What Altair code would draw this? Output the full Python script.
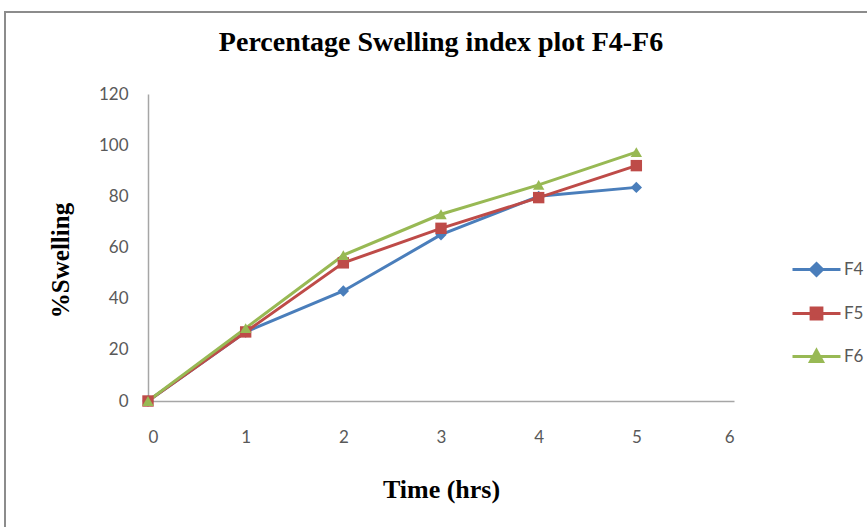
import altair as alt
import pandas as pd

time_hrs = [0, 1, 2, 3, 4, 5]
f4 = [0, 27, 43, 65, 80, 83.5]
f5 = [0, 27, 54, 67.5, 79.5, 92]
f6 = [0, 28.5, 57, 73, 84.5, 97.3]
series_names = ["F4", "F5", "F6"]
colors = ["#4A7EBB", "#BE4B48", "#98B954"]
shapes = ["diamond", "square", "triangle-up"]
legend_paths = [
    "M-1.2,0H1.2M0,-0.3L0.3,0L0,0.3L-0.3,0Z",
    "M-1.2,0H1.2M-0.27,-0.27H0.27V0.27H-0.27Z",
    "M-1.2,0H1.2M0,-0.3L0.3,0.25L-0.3,0.25Z",
]

rows = []
for name, vals in zip(series_names, [f4, f5, f6]):
    for t, v in zip(time_hrs, vals):
        rows.append({"Time": t, "Swelling": v, "Series": name})
df = pd.DataFrame(rows)

LABEL_FONT = "Lato"
TITLE_FONT = "Liberation Serif"

x_enc = alt.X("Time:Q", scale=alt.Scale(domain=[0, 6], nice=False),
              axis=alt.Axis(values=[0, 1, 2, 3, 4, 5, 6], title="Time (hrs)", grid=False,
                            ticks=False, domainColor="#A6A6A6", domainWidth=1.5,
                            labelFont=LABEL_FONT, labelFontSize=17, labelColor="#595959",
                            labelPadding=28, titleFont=TITLE_FONT, titleFontSize=26,
                            titleFontWeight="bold", titleColor="#000000", titlePadding=31))
y_enc = alt.Y("Swelling:Q", scale=alt.Scale(domain=[0, 120], nice=False),
              axis=alt.Axis(values=[0, 20, 40, 60, 80, 100, 120], title="%Swelling", grid=False,
                            ticks=False, domainColor="#A6A6A6", domainWidth=1.5,
                            labelFont=LABEL_FONT, labelFontSize=17, labelColor="#595959",
                            labelPadding=20, titleFont=TITLE_FONT, titleFontSize=25,
                            titleFontWeight="bold", titleColor="#000000", titlePadding=25,
                            titleY=166))

lines = alt.Chart(df).mark_line(strokeWidth=3).encode(
    x=x_enc, y=y_enc,
    color=alt.Color("Series:N", scale=alt.Scale(domain=series_names, range=colors), legend=None),
)

points = alt.Chart(df).mark_point(filled=True, opacity=1, size=130).encode(
    x=x_enc, y=y_enc,
    color=alt.Color("Series:N", scale=alt.Scale(domain=series_names, range=colors), legend=None),
    shape=alt.Shape("Series:N", scale=alt.Scale(domain=series_names, range=shapes), legend=None),
)

leg_common = dict(orient="none", legendX=647, legendY=154, title=None,
                  symbolSize=1600, symbolStrokeWidth=3, symbolOpacity=1,
                  labelFont=LABEL_FONT, labelFontSize=17, labelColor="#595959",
                  rowPadding=10, labelOffset=6)

legend_layer = alt.Chart(df).transform_filter("false").mark_point(opacity=1).encode(
    x=x_enc, y=y_enc,
    fill=alt.Fill("Series:N", scale=alt.Scale(domain=series_names, range=colors),
                  legend=alt.Legend(**leg_common)),
    stroke=alt.Stroke("Series:N", scale=alt.Scale(domain=series_names, range=colors),
                      legend=alt.Legend(**leg_common)),
    shape=alt.Shape("Series:N", scale=alt.Scale(domain=series_names, range=legend_paths),
                    legend=alt.Legend(**leg_common)),
)

frame = alt.Chart(df).mark_rect(fill=None, stroke="#8C8C8C", strokeWidth=2).encode(
    x=alt.value(-143), x2=alt.value(740), y=alt.value(-82), y2=alt.value(440)
)

chart = alt.layer(frame, lines, points, legend_layer).resolve_scale(
    color="independent", shape="independent", fill="independent", stroke="independent"
).properties(
    width=586, height=307,
    background="white",
    title=alt.Title("Percentage Swelling index plot F4-F6", font=TITLE_FONT, fontSize=28,
                    fontWeight="bold", color="#000000", anchor="middle", offset=-46),
    autosize=alt.AutoSizeParams(type="none"),
    padding={"left": 148, "top": 94, "right": 133, "bottom": 126},
).configure_view(strokeWidth=0)

chart.save("out.html", embed_options={"renderer": "svg", "actions": False})
